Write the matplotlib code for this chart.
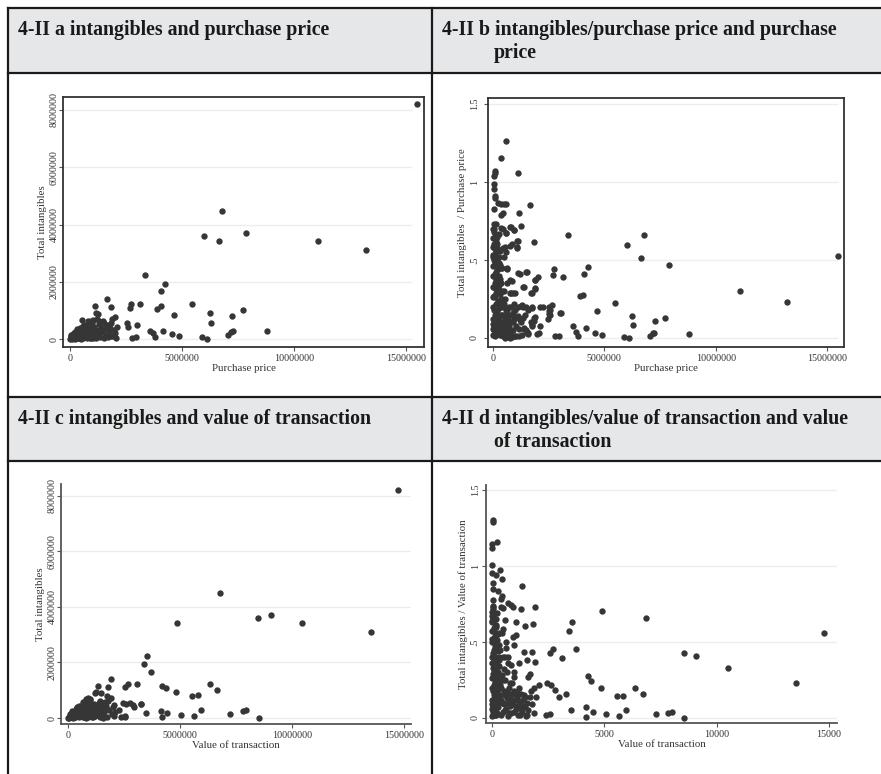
import numpy as np
import matplotlib.pyplot as plt
from matplotlib.patches import Rectangle

plt.rcParams["font.family"] = ["Liberation Serif", "DejaVu Serif"]

# ---- panel a: total intangibles vs purchase price (values in millions) ----
a_x = [15.49, 6.77, 6.00, 6.64, 7.87, 11.07, 13.21, 3.35, 4.24, 4.06, 1.64, 1.10, 1.82, 2.72, 2.68,
       3.13, 4.06, 3.90, 5.45, 6.24, 4.66, 7.25, 7.71, 6.29, 8.79, 7.26, 7.19, 7.07, 4.17, 4.55,
       4.88, 5.88, 6.10, 3.57, 3.69, 3.79, 2.99, 2.53, 2.57, 2.78, 2.95, 1.15, 1.24, 0.54, 0.94,
       1.04, 1.46, 1.86, 1.82, 2.00, 2.11, 1.93, 2.00, 1.71,
       0.02, 0.05, 0.08, 0.10, 0.12, 0.15, 0.18, 0.20, 0.22, 0.25, 0.28, 0.30, 0.32, 0.35, 0.38,
       0.40, 0.42, 0.45, 0.48, 0.50, 0.52, 0.55, 0.58, 0.60, 0.62, 0.65, 0.68, 0.70, 0.72, 0.75,
       0.78, 0.80, 0.83, 0.86, 0.88, 0.90, 0.93, 0.96, 0.98, 1.00, 1.03, 1.05, 1.08, 1.10,
       0.03, 0.06, 0.14, 0.24, 0.36, 0.46, 0.56, 0.64, 0.74, 0.84, 0.20, 0.30,
       1.15, 1.20, 1.25, 1.30, 1.35, 1.40, 1.45, 1.50, 1.55, 1.60, 1.65, 1.70, 1.75, 1.80, 1.85,
       1.95, 2.05, 1.30, 1.50, 1.20, 1.00, 0.80,
       0.05, 0.15, 0.25, 0.35, 0.45, 0.55, 0.65, 0.75, 0.85, 0.95, 0.12, 0.28, 0.42, 0.58, 0.72,
       0.88, 1.02, 0.35, 0.50, 0.62, 0.78, 0.92]
a_y = [8.22, 4.48, 3.60, 3.42, 3.71, 3.41, 3.10, 2.22, 1.93, 1.68, 1.40, 1.16, 1.13, 1.21, 1.09,
       1.22, 1.16, 1.06, 1.23, 0.92, 0.84, 0.80, 1.01, 0.55, 0.28, 0.29, 0.23, 0.14, 0.28, 0.17,
       0.09, 0.06, 0.00, 0.28, 0.20, 0.06, 0.49, 0.55, 0.43, 0.03, 0.06, 0.92, 0.87, 0.65, 0.63,
       0.65, 0.62, 0.69, 0.55, 0.76, 0.43, 0.12, 0.20, 0.49,
       0.00, 0.02, 0.05, 0.01, 0.08, 0.03, 0.12, 0.06, 0.00, 0.15, 0.09, 0.03, 0.20, 0.12, 0.05,
       0.25, 0.17, 0.08, 0.30, 0.01, 0.22, 0.14, 0.35, 0.05, 0.27, 0.18, 0.40, 0.09, 0.31, 0.02,
       0.22, 0.36, 0.13, 0.45, 0.28, 0.05, 0.19, 0.38, 0.10, 0.30, 0.02, 0.22, 0.42, 0.12,
       0.10, 0.14, 0.18, 0.26, 0.32, 0.38, 0.44, 0.50, 0.48, 0.55, 0.22, 0.35,
       0.05, 0.30, 0.18, 0.52, 0.08, 0.40, 0.25, 0.02, 0.35, 0.14, 0.45, 0.06, 0.28, 0.38, 0.10,
       0.32, 0.02, 0.62, 0.55, 0.70, 0.55, 0.62,
       0.06, 0.10, 0.05, 0.20, 0.15, 0.25, 0.08, 0.15, 0.25, 0.05, 0.03, 0.18, 0.02, 0.12, 0.20,
       0.12, 0.15, 0.28, 0.35, 0.33, 0.42, 0.30]

# ---- panel b: intangibles / purchase price vs purchase price (x in millions) ----
b_x = [0.00, 0.05, 0.10, 0.15, 0.20, 0.25, 0.30, 0.02, 0.08, 0.18, 0.28, 0.00, 0.12, 0.22, 0.32,
       0.04, 0.15, 0.26, 0.00, 0.09, 0.20, 0.30, 0.03, 0.14, 0.24, 0.00, 0.08, 0.18, 0.28, 0.02,
       0.12, 0.22, 0.05, 0.15, 0.00, 0.25, 0.10, 0.06, 0.35, 0.35, 0.35, 0.30, 0.10, 0.00, 0.05,
       0.40, 0.42, 0.40,
       0.09, 0.09, 0.06, 0.06, 0.06, 0.09, 0.10, 0.21, 0.48, 0.06, 0.36, 0.12, 0.04, 0.36, 0.78,
       0.96, 0.28, 0.58, 0.58, 0.35, 1.14, 1.68, 1.18, 1.27, 1.85, 1.12, 1.06, 0.87, 1.09, 1.06,
       0.45, 0.60, 0.48,
       0.64, 1.14, 1.51, 2.00, 1.88, 0.84, 0.76, 1.00, 1.33, 1.88, 1.74, 1.26, 1.50, 2.10, 2.26,
       2.64, 1.77, 2.56, 2.50, 3.05, 1.59, 1.44, 1.36, 1.21, 1.06, 0.91, 1.88, 1.84, 2.56, 2.49,
       1.74, 1.99, 1.41, 1.51, 1.59, 0.76, 0.84, 1.02, 0.50, 0.55, 0.65, 0.60, 0.70, 0.45, 0.55,
       0.70, 0.50, 0.65, 0.80, 0.90, 0.45, 0.60, 1.10, 0.95,
       15.48, 11.08, 13.20, 6.80, 6.02, 6.65, 7.89, 3.38, 4.28, 4.09, 4.03, 3.90, 2.75, 2.71, 3.16,
       5.46, 4.68, 6.24, 6.30, 7.29, 7.72, 8.79, 7.20, 7.25, 7.05, 3.61, 3.73, 3.80, 4.19, 4.57,
       4.90, 5.86, 6.10, 3.00, 2.53, 2.50, 2.78, 2.95, 1.20, 1.90, 1.90, 1.70, 1.37, 0.80, 0.90,
       0.64, 0.78, 1.75, 1.28, 1.35, 1.85, 1.70, 1.75, 2.10, 1.40, 1.50, 1.55, 2.05, 0.98, 0.75,
       0.80, 0.45, 0.80, 0.95, 0.58, 0.45, 0.35, 0.45, 0.60, 0.75, 0.55, 1.48,
       0.02, 0.12, 0.22, 0.32, 0.07, 0.17, 0.27, 0.05, 0.25, 0.10, 0.30, 0.20, 0.05, 0.25, 0.15,
       0.08, 0.30, 0.20, 0.12, 0.03, 0.25, 0.15, 0.08, 0.30, 0.20, 0.02, 0.12, 0.00, 0.00, 0.00,
       0.00, 0.35, 0.35, 0.18, 0.05,
       0.42, 0.48, 0.52, 0.58, 0.62, 0.68, 0.72, 0.78, 0.85, 0.88, 0.95, 1.00, 1.05, 1.12, 1.18,
       1.25, 1.30, 0.40, 0.55, 0.68, 1.15, 0.42, 0.50]
b_y = [0.02, 0.05, 0.01, 0.08, 0.04, 0.11, 0.02, 0.12, 0.15, 0.17, 0.14, 0.20, 0.22, 0.24, 0.20,
       0.27, 0.29, 0.31, 0.33, 0.35, 0.37, 0.28, 0.40, 0.42, 0.44, 0.46, 0.48, 0.50, 0.40, 0.53,
       0.55, 0.57, 0.60, 0.62, 0.58, 0.52, 0.32, 0.07, 0.06, 0.25, 0.35, 0.47, 0.65, 0.70, 0.73,
       0.15, 0.30, 0.45,
       1.07, 1.06, 1.04, 0.99, 0.953, 0.91, 0.895, 0.863, 0.859, 0.825, 0.79, 0.731, 0.697, 0.703, 0.714,
       0.692, 0.667, 0.671, 1.265, 1.154, 1.06, 0.85, 0.80, 0.718, 0.617, 0.624, 0.58, 0.60, 0.62, 0.575,
       0.575, 0.55, 0.52,
       0.444, 0.417, 0.423, 0.393, 0.372, 0.365, 0.286, 0.286, 0.325, 0.312, 0.286, 0.205, 0.196, 0.20, 0.20,
       0.21, 0.19, 0.18, 0.154, 0.162, 0.18, 0.147, 0.126, 0.115, 0.137, 0.158, 0.133, 0.111, 0.145, 0.124,
       0.083, 0.026, 0.062, 0.04, 0.026, 0.051, 0.008, 0.013, 0.05, 0.12, 0.18, 0.10, 0.15, 0.20, 0.25,
       0.08, 0.30, 0.35, 0.20, 0.10, 0.01, 0.02, 0.20, 0.22,
       0.526, 0.303, 0.229, 0.658, 0.596, 0.511, 0.466, 0.660, 0.455, 0.41, 0.278, 0.27, 0.444, 0.404, 0.389,
       0.222, 0.175, 0.143, 0.081, 0.107, 0.128, 0.028, 0.03, 0.035, 0.015, 0.075, 0.036, 0.01, 0.062, 0.032,
       0.02, 0.005, 0.0, 0.16, 0.20, 0.17, 0.01, 0.01, 0.41, 0.37, 0.32, 0.29, 0.33, 0.29, 0.29,
       0.45, 0.37, 0.20, 0.21, 0.20, 0.13, 0.10, 0.08, 0.08, 0.06, 0.05, 0.03, 0.03, 0.01, 0.0,
       0.04, 0.07, 0.71, 0.69, 0.86, 0.80, 0.86, 0.70, 0.67, 0.59, 0.58, 0.421,
       0.06, 0.05, 0.08, 0.10, 0.10, 0.12, 0.07, 0.18, 0.19, 0.26, 0.23, 0.29, 0.33, 0.34, 0.37,
       0.41, 0.38, 0.45, 0.47, 0.50, 0.48, 0.52, 0.57, 0.56, 0.60, 0.64, 0.60, 0.09, 0.26, 0.40,
       0.52, 0.15, 0.45, 0.65, 0.68,
       0.10, 0.15, 0.08, 0.18, 0.05, 0.12, 0.20, 0.10, 0.15, 0.05, 0.12, 0.18, 0.08, 0.14, 0.06,
       0.10, 0.02, 0.03, 0.00, 0.01, 0.01, 0.25, 0.22]

# ---- panel c: total intangibles vs value of transaction (values in millions) ----
c_x = [14.73, 6.80, 4.87, 8.48, 9.08, 10.46, 13.51, 3.51, 3.38, 3.71, 1.91, 1.32, 1.79, 2.68, 2.56,
       3.09, 4.21, 4.38, 4.81, 6.33, 6.67, 5.54, 5.80, 3.26, 4.15, 4.43, 4.18, 3.47, 5.04, 5.63,
       5.94, 7.25, 7.81, 7.96, 8.51, 2.28, 2.38, 2.54, 2.92, 2.75, 2.47, 2.07, 1.25, 1.46, 1.75,
       1.92, 1.38, 0.98, 0.88, 0.68, 2.10, 1.43,
       0.00, 0.03, 0.06, 0.09, 0.12, 0.15, 0.18, 0.21, 0.24, 0.27, 0.30, 0.33, 0.36, 0.39, 0.42,
       0.45, 0.48, 0.51, 0.54, 0.57, 0.60, 0.63, 0.66, 0.69, 0.72, 0.75, 0.78, 0.81, 0.84, 0.87,
       0.90, 0.93, 0.96, 0.99, 1.02, 1.05, 1.08, 1.12, 1.16, 1.20, 1.25, 1.30, 1.35, 1.40, 0.20,
       0.35, 0.50, 0.65, 0.55, 0.70, 0.85, 1.00, 0.40, 0.10,
       1.50, 1.55, 1.60, 1.70, 1.75, 1.85, 1.95, 2.00, 1.65, 1.80, 1.45, 1.58, 2.05, 2.60, 2.93,
       3.27, 2.53, 1.22, 1.41, 1.49, 0.82,
       0.05, 0.15, 0.25, 0.35, 0.45, 0.55, 0.65, 0.75, 0.85, 0.95, 1.05, 1.15, 0.30, 0.50, 0.70,
       0.90, 1.10, 0.60, 0.80, 1.00, 0.40, 0.20]
c_y = [8.22, 4.49, 3.42, 3.60, 3.71, 3.42, 3.10, 2.23, 1.95, 1.67, 1.41, 1.17, 1.13, 1.24, 1.11,
       1.22, 1.17, 1.07, 0.93, 1.24, 1.02, 0.80, 0.83, 0.49, 0.26, 0.17, 0.03, 0.17, 0.11, 0.06,
       0.28, 0.14, 0.25, 0.29, 0.01, 0.29, 0.05, 0.05, 0.47, 0.53, 0.55, 0.46, 0.94, 0.89, 0.80,
       0.73, 0.53, 0.65, 0.71, 0.59, 0.23, 0.05,
       0.00, 0.03, 0.01, 0.07, 0.02, 0.11, 0.05, 0.15, 0.01, 0.09, 0.19, 0.04, 0.13, 0.24, 0.07,
       0.30, 0.17, 0.02, 0.35, 0.10, 0.22, 0.40, 0.05, 0.28, 0.45, 0.14, 0.33, 0.01, 0.50, 0.20,
       0.38, 0.08, 0.55, 0.26, 0.44, 0.03, 0.16, 0.34, 0.50, 0.09, 0.24, 0.40, 0.14, 0.30, 0.25,
       0.33, 0.42, 0.52, 0.20, 0.10, 0.62, 0.68, 0.38, 0.15,
       0.10, 0.33, 0.20, 0.44, 0.05, 0.28, 0.15, 0.38, 0.58, 0.62, 0.48, 0.01, 0.08, 0.50, 0.41,
       0.50, 0.07, 0.91, 0.61, 0.53, 0.67,
       0.05, 0.02, 0.08, 0.18, 0.12, 0.28, 0.15, 0.25, 0.10, 0.35, 0.20, 0.12, 0.02, 0.06, 0.02,
       0.02, 0.05, 0.35, 0.42, 0.48, 0.20, 0.10]

# ---- panel d: intangibles / value of transaction vs value of transaction (thousands) ----
d_x = [14774, 13541, 10502, 9091, 8531, 6853, 4895, 3546, 3427, 3725, 2715, 2594, 3129, 1928, 1825,
       1469, 1350, 1276, 1439, 1795, 1573, 1928, 1202, 1676, 1602, 994, 2091, 1869, 1973, 2448,
       2611, 2804, 2967, 3293, 4837, 4272, 4420, 6377, 6706, 5576, 5829, 4170, 4183, 4481, 5086,
       5665, 5963, 7312, 7816, 7994, 8557, 3516, 2390, 2581, 1439, 994,
       44, 50, 222, 15, 0, 15, 356, 15, 165, 430, 59, 30, 252, 445, 400,
       30, 30, 30, 385, 504, 727, 846, 950, 237, 579, 0, 30, 1054, 504, 430,
       950, 1068, 980, 608, 579, 727, 800,
       0, 60, 120, 180, 240, 300, 20, 90, 160, 230, 310, 0, 70, 140, 210,
       280, 40, 110, 190, 260, 0, 80, 150, 230, 320, 30, 100, 180, 260, 0,
       60, 130, 210, 20, 90, 170, 0, 50, 250, 330, 120, 340, 200, 300, 10, 60,
       420, 480, 520, 560, 600, 650, 700, 740, 780, 820, 860, 900, 950, 1000, 1050,
       1100, 1150, 1200, 1250, 1300, 1350, 1400, 1450, 1500, 1550, 1600, 450, 550, 650, 700,
       850, 500, 1700, 1800, 1850, 1750, 620,
       20, 120, 220, 320, 70, 170, 270, 50, 250, 100, 300, 200, 50, 250, 150,
       80, 300, 200, 120, 30, 250, 150, 80, 300, 200, 20, 120, 0, 0, 0,
       0, 350, 350, 180, 50,
       420, 480, 530, 580, 630, 680, 720, 760, 800, 880, 930, 980, 1030, 1080, 1130,
       1180, 1230, 1280, 1380, 1480, 1580, 400, 500]
d_y = [0.559, 0.232, 0.329, 0.41, 0.425, 0.656, 0.702, 0.63, 0.574, 0.454, 0.454, 0.426, 0.395, 0.728, 0.618,
       0.603, 0.866, 0.719, 0.436, 0.436, 0.38, 0.366, 0.364, 0.292, 0.268, 0.272, 0.217, 0.195, 0.136, 0.228,
       0.217, 0.182, 0.136, 0.156, 0.195, 0.276, 0.243, 0.195, 0.158, 0.147, 0.145, 0.07, 0.009, 0.042, 0.024,
       0.013, 0.051, 0.024, 0.035, 0.042, 0.002, 0.051, 0.02, 0.026, 0.151, 0.305,
       1.30, 1.29, 1.158, 1.145, 1.12, 1.007, 0.972, 0.956, 0.939, 0.912, 0.888, 0.851, 0.834, 0.80, 0.785,
       0.776, 0.733, 0.72, 0.728, 0.724, 0.754, 0.743, 0.728, 0.689, 0.645, 0.67, 0.65, 0.634, 0.588, 0.561,
       0.535, 0.546, 0.48, 0.458, 0.403, 0.36, 0.228,
       0.01, 0.04, 0.02, 0.07, 0.03, 0.10, 0.12, 0.15, 0.13, 0.17, 0.14, 0.20, 0.22, 0.24, 0.21,
       0.26, 0.29, 0.31, 0.33, 0.30, 0.36, 0.38, 0.40, 0.37, 0.34, 0.43, 0.45, 0.47, 0.44, 0.50,
       0.52, 0.54, 0.51, 0.57, 0.59, 0.61, 0.63, 0.08, 0.55, 0.48, 0.65, 0.22, 0.02, 0.40, 0.70, 0.74,
       0.02, 0.10, 0.18, 0.05, 0.25, 0.13, 0.01, 0.20, 0.08, 0.16, 0.03, 0.23, 0.11, 0.18, 0.06,
       0.14, 0.02, 0.20, 0.09, 0.16, 0.04, 0.12, 0.07, 0.01, 0.10, 0.05, 0.28, 0.32, 0.30, 0.40,
       0.35, 0.40, 0.14, 0.09, 0.03, 0.18, 0.50,
       0.06, 0.05, 0.08, 0.10, 0.10, 0.12, 0.07, 0.18, 0.19, 0.26, 0.23, 0.29, 0.33, 0.34, 0.37,
       0.41, 0.38, 0.45, 0.47, 0.50, 0.48, 0.52, 0.57, 0.56, 0.60, 0.64, 0.60, 0.09, 0.26, 0.40,
       0.52, 0.15, 0.45, 0.65, 0.68,
       0.12, 0.04, 0.09, 0.15, 0.06, 0.18, 0.10, 0.03, 0.13, 0.09, 0.16, 0.04, 0.12, 0.08, 0.17,
       0.11, 0.02, 0.06, 0.08, 0.14, 0.02, 0.20, 0.25]

big_ticks = [0, 2000000, 4000000, 6000000, 8000000]
big_labels = ["0", "2000000", "4000000", "6000000", "8000000"]
ratio_ticks = [0, 0.5, 1, 1.5]
ratio_labels = ["0", ".5", "1", "1.5"]

W, H = 881, 774
GRAY = "#e6e7e8"
DOT = "#363636"

fig = plt.figure(figsize=(W / 100, H / 100), dpi=100)

# table background / borders drawn in pixel coords
bg = fig.add_axes([0, 0, 1, 1])
bg.set_xlim(0, W)
bg.set_ylim(H, 0)
bg.axis("off")
bg.add_patch(Rectangle((8, 8), W - 8, 65, fc=GRAY, ec="none"))
bg.add_patch(Rectangle((8, 397), W - 8, 64, fc=GRAY, ec="none"))
for yy in [8, 73, 397, 461]:
    bg.plot([8, W], [yy, yy], color="#1a1a1a", lw=1.6)
for xx in [8, 432]:
    bg.plot([xx, xx], [8, H], color="#1a1a1a", lw=1.6)

hdr = dict(fontsize=14.3, fontweight="bold", va="baseline", ha="left", color="#1a1a1a")
bg.text(18, 35, "4-II a intangibles and purchase price", **hdr)
bg.text(442, 35, "4-II b intangibles/purchase price and purchase", **hdr)
bg.text(494, 58, "price", **hdr)
bg.text(18, 424, "4-II c intangibles and value of transaction", **hdr)
bg.text(442, 424, "4-II d intangibles/value of transaction and value", **hdr)
bg.text(494, 447, "of transaction", **hdr)


def px_axes(l, t, r, b):
    return fig.add_axes([l / W, 1 - b / H, (r - l) / W, (b - t) / H])


def style(ax, boxed, grid_end, yticks, ylabels, ylab, xlab, ylab_x, ytick_pad):
    ax.set_yticks(yticks)
    ax.set_yticklabels(ylabels, rotation=90, va="center")
    for v in yticks:
        ax.axhline(v, xmin=0, xmax=grid_end, color="#ededed", lw=1.0, zorder=0)
    for s in ["top", "right"]:
        ax.spines[s].set_visible(boxed)
    for s in ax.spines.values():
        s.set_color("#333333" if boxed else "#555555")
        s.set_linewidth(1.3)
    ax.tick_params(direction="out", length=3, width=0.8, color="#555555",
                   labelsize=7.2, labelcolor="#333333")
    ax.tick_params(axis="y", pad=ytick_pad)
    ax.tick_params(axis="x", pad=2)
    ax.set_xlabel(xlab, fontsize=7.8, color="#333333", labelpad=0.5)
    ax.set_ylabel(ylab, fontsize=7.8, color="#333333")
    ax.yaxis.set_label_coords(ylab_x, 0.5)
    ax.set_facecolor("none")


mil = 1e6
S = 21

ax_a = px_axes(63, 97, 424, 347)
ax_a.scatter(np.array(a_x) * mil, np.array(a_y) * mil, s=S, c=DOT, lw=0, zorder=3)
ax_a.set_xlim(-0.3125e6, 15.80e6)
ax_a.set_ylim(-0.279e6, 8.454e6)
ax_a.set_xticks([0, 5000000, 10000000, 15000000])
ax_a.set_xticklabels(["0", "5000000", "10000000", "15000000"])
style(ax_a, True, 0.964, big_ticks, big_labels, "Total intangibles", "Purchase price", -0.045, 0)

ax_b = px_axes(488, 98, 844, 347)
ax_b.scatter(np.array(b_x) * mil, b_y, s=S, c=DOT, lw=0, zorder=3)
ax_b.set_xlim(-0.2246e6, 15.76e6)
ax_b.set_ylim(-0.0577, 1.538)
ax_b.set_xticks([0, 5000000, 10000000, 15000000])
ax_b.set_xticklabels(["0", "5000000", "10000000", "15000000"])
style(ax_b, True, 0.98, ratio_ticks, ratio_labels, "Total intangibles  / Purchase price",
      "Purchase price", -0.058, 3.5)

ax_c = px_axes(61, 484, 411, 724)
ax_c.scatter(np.array(c_x) * mil, np.array(c_y) * mil, s=S, c=DOT, lw=0, zorder=3)
ax_c.set_xlim(-0.3125e6, 15.31e6)
ax_c.set_ylim(-0.216e6, 8.43e6)
ax_c.set_xticks([0, 5000000, 10000000, 15000000])
ax_c.set_xticklabels(["0", "5000000", "10000000", "15000000"])
style(ax_c, False, 1.0, big_ticks, big_labels, "Total intangibles", "Value of transaction", -0.047, 0)

ax_d = px_axes(486, 485, 837, 723)
ax_d.scatter(d_x, d_y, s=S, c=DOT, lw=0, zorder=3)
ax_d.set_xlim(-267, 15355)
ax_d.set_ylim(-0.033, 1.533)
ax_d.set_xticks([0, 5000, 10000, 15000])
ax_d.set_xticklabels(["0", "5000", "10000", "15000"])
style(ax_d, False, 1.0, ratio_ticks, ratio_labels, "Total intangibles / Value of transaction",
      "Value of transaction", -0.05, 1.5)

fig.savefig("out.png", dpi=100)
